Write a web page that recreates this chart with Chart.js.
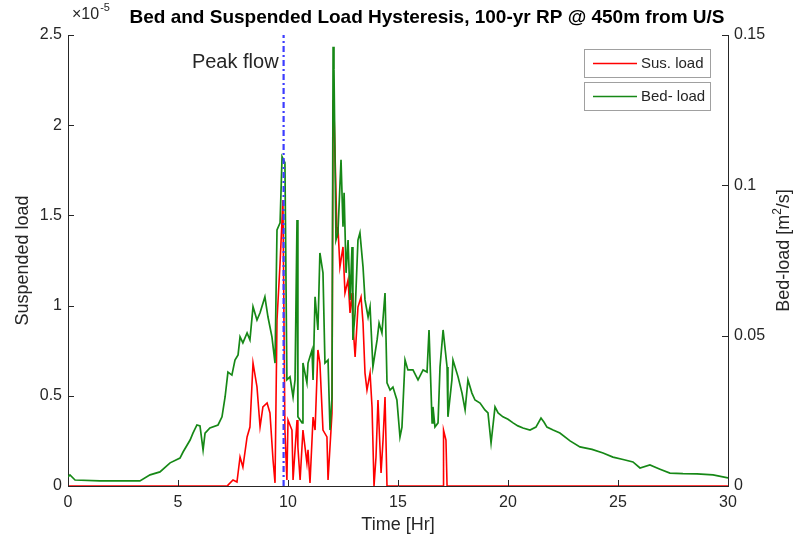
<!DOCTYPE html>
<html>
<head>
<meta charset="utf-8">
<script src="https://cdn.jsdelivr.net/npm/chart.js@4/dist/chart.umd.min.js"></script>
<style>
html,body{margin:0;padding:0;background:#fff;}
#wrap{width:794px;height:540px;position:relative;}
</style>
</head>
<body>
<div id="wrap"><canvas id="c" width="794" height="540"></canvas></div>
<script>
// ---- Data ----
const chartTitle = "Bed and Suspended Load Hysteresis, 100-yr RP @ 450m from U/S";
const xTitle = "Time [Hr]";
const yLeftTitle = "Suspended load";
const seriesNames = ["Sus. load", "Bed- load"];
const peakLabel = "Peak flow";
const peakTime = 9.8;

const xTicks = [0, 5, 10, 15, 20, 25, 30];
const leftTicks = [0, 0.5e-5, 1e-5, 1.5e-5, 2e-5, 2.5e-5];
const rightTicks = [0, 0.05, 0.1, 0.15];

const bedTime = [0,0.09,0.32,1.45,3.27,3.73,4.18,4.64,5.09,5.23,5.55,5.68,5.86,6.00,6.14,6.23,6.45,6.82,7.00,7.14,7.27,7.45,7.59,7.73,7.82,7.95,8.14,8.27,8.41,8.59,8.73,8.95,9.09,9.27,9.41,9.50,9.64,9.73,9.86,9.95,10.09,10.23,10.32,10.41,10.45,10.64,10.68,10.86,10.91,11.09,11.14,11.23,11.36,11.45,11.59,11.68,11.82,11.91,12.00,12.05,12.09,12.18,12.27,12.41,12.50,12.55,12.64,12.73,12.82,12.91,12.95,13.05,13.18,13.27,13.41,13.50,13.64,13.73,13.86,14.05,14.14,14.27,14.41,14.50,14.64,14.77,14.95,15.09,15.18,15.32,15.45,15.68,15.91,16.14,16.32,16.41,16.55,16.59,16.68,16.82,16.91,17.05,17.23,17.27,17.45,17.50,17.73,17.91,18.05,18.18,18.36,18.50,18.73,18.95,19.09,19.23,19.41,19.55,19.77,20.00,20.23,20.45,20.68,21.00,21.27,21.50,21.64,21.77,22.05,22.36,22.82,23.27,23.82,24.32,24.77,25.23,25.68,26.00,26.45,26.91,27.36,27.95,28.59,29.32,30.00];
const bedLoad = [0.0030,0.0037,0.0020,0.0017,0.0017,0.0037,0.0047,0.0077,0.0093,0.0113,0.0153,0.0176,0.0203,0.0200,0.0120,0.0176,0.0193,0.0203,0.0230,0.0296,0.0379,0.0369,0.0419,0.0436,0.0496,0.0476,0.0509,0.0486,0.0596,0.0552,0.0576,0.0629,0.0562,0.0496,0.0409,0.0852,0.0875,0.1095,0.1075,0.0353,0.0363,0.0296,0.0353,0.0885,0.0230,0.0210,0.0409,0.0343,0.0409,0.0452,0.0353,0.0629,0.0519,0.0775,0.0709,0.0409,0.0419,0.0186,0.0296,0.1461,0.1384,0.0818,0.0842,0.1085,0.0862,0.0975,0.0709,0.0818,0.0619,0.0795,0.0486,0.0576,0.0818,0.0842,0.0729,0.0619,0.0562,0.0596,0.0396,0.0486,0.0542,0.0509,0.0642,0.0343,0.0319,0.0329,0.0286,0.0163,0.0196,0.0419,0.0386,0.0386,0.0353,0.0386,0.0379,0.0519,0.0210,0.0263,0.0196,0.0210,0.0396,0.0519,0.0396,0.0230,0.0353,0.0419,0.0363,0.0309,0.0253,0.0353,0.0309,0.0286,0.0276,0.0253,0.0243,0.0143,0.0263,0.0243,0.0230,0.0222,0.0210,0.0200,0.0193,0.0186,0.0196,0.0226,0.0212,0.0196,0.0186,0.0176,0.0150,0.0130,0.0122,0.0110,0.0096,0.0088,0.0080,0.0060,0.0070,0.0056,0.0043,0.0041,0.0040,0.0037,0.0027];

const susTime = [0,7.23,7.27,7.50,7.68,7.82,7.95,8.14,8.27,8.41,8.59,8.73,8.86,9.05,9.18,9.32,9.41,9.50,9.64,9.77,9.86,9.95,10.00,10.18,10.23,10.41,10.45,10.55,10.68,10.86,10.91,11.00,11.14,11.23,11.36,11.45,11.59,11.77,11.82,12.00,12.05,12.09,12.23,12.27,12.36,12.50,12.59,12.73,12.82,12.91,12.95,13.05,13.18,13.32,13.41,13.50,13.59,13.73,13.82,13.91,14.00,14.09,14.23,14.32,14.41,14.50,17.05,17.07,17.18,17.23,30];
const susLoad = [0,0,0.005e-5,0.033e-5,0.022e-5,0.161e-5,0.105e-5,0.272e-5,0.327e-5,0.682e-5,0.549e-5,0.327e-5,0.438e-5,0.460e-5,0.405e-5,0.144e-5,0.017e-5,0.920e-5,1.236e-5,1.585e-5,0.310e-5,0.033e-5,0.366e-5,0.310e-5,0.033e-5,0.366e-5,0.216e-5,0.033e-5,0.310e-5,0.127e-5,0.200e-5,0.017e-5,0.382e-5,0.310e-5,0.754e-5,0.682e-5,0.310e-5,0.272e-5,0.033e-5,0.405e-5,2.14e-5,2.08e-5,1.380e-5,1.436e-5,1.214e-5,1.325e-5,1.070e-5,1.142e-5,0.959e-5,1.070e-5,0.904e-5,0.715e-5,0.992e-5,1.048e-5,0.904e-5,0.626e-5,0.532e-5,0.626e-5,0.438e-5,0,0.161e-5,0.477e-5,0.072e-5,0.255e-5,0.493e-5,0,0,0.310e-5,0.255e-5,0,0];

// ---- Styles ----
const TXT = '#262626';
const FONT = '"Liberation Sans", Arial, Helvetica, sans-serif';
const RED = '#ff0000', GREEN = '#168816', BLUE = '#3d3dff';

const toXY = (xs, ys) => xs.map((x, i) => ({x: x, y: ys[i]}));
const fmt = v => String(Math.round(v * 1000) / 1000);

const decor = {
  id: 'decor',
  afterDraw(chart) {
    const ctx = chart.ctx;
    const ca = chart.chartArea;
    const sx = chart.scales.x, sl = chart.scales.yL, sr = chart.scales.yR;
    ctx.save();
    // inward tick marks
    ctx.strokeStyle = TXT; ctx.lineWidth = 1;
    ctx.beginPath();
    xTicks.forEach(v => { const px = Math.round(sx.getPixelForValue(v)) + 0.5; ctx.moveTo(px, ca.bottom); ctx.lineTo(px, ca.bottom - 6); });
    leftTicks.forEach(v => { const py = Math.round(sl.getPixelForValue(v)) + 0.5; ctx.moveTo(ca.left, py); ctx.lineTo(ca.left + 6, py); });
    rightTicks.forEach(v => { const py = Math.round(sr.getPixelForValue(v)) + 0.5; ctx.moveTo(ca.right, py); ctx.lineTo(ca.right - 6, py); });
    ctx.stroke();

    // title
    ctx.fillStyle = '#000';
    ctx.font = 'bold 19px ' + FONT;
    ctx.textAlign = 'center'; ctx.textBaseline = 'middle';
    ctx.fillText(chartTitle, 427, 18);

    // exponent label
    ctx.fillStyle = TXT;
    ctx.font = '16px ' + FONT;
    ctx.textAlign = 'left';
    ctx.fillText('\u00D710', 72, 15);
    const w = ctx.measureText('\u00D710').width;
    ctx.font = '11px ' + FONT;
    ctx.fillText('-5', 72 + w + 1, 8);

    // axis titles
    ctx.font = '18px ' + FONT;
    ctx.textAlign = 'center';
    ctx.fillText(xTitle, (ca.left + ca.right) / 2, 525);
    ctx.save();
    ctx.translate(23, (ca.top + ca.bottom) / 2);
    ctx.rotate(-Math.PI / 2);
    ctx.fillText(yLeftTitle, 0, 0);
    ctx.restore();
    ctx.save();
    ctx.translate(784, (ca.top + ca.bottom) / 2 - 10);
    ctx.rotate(-Math.PI / 2);
    const a = 'Bed-load [m', b = '2', c = '/s]';
    ctx.font = '18px ' + FONT; const wa = ctx.measureText(a).width, wc = ctx.measureText(c).width;
    ctx.font = '12px ' + FONT; const wb = ctx.measureText(b).width;
    const x0 = -(wa + wb + wc) / 2;
    ctx.textAlign = 'left';
    ctx.font = '18px ' + FONT; ctx.fillText(a, x0, 0);
    ctx.font = '12px ' + FONT; ctx.fillText(b, x0 + wa, -6);
    ctx.font = '18px ' + FONT; ctx.fillText(c, x0 + wa + wb, 0);
    ctx.restore();

    // peak flow label
    ctx.font = '20px ' + FONT;
    ctx.textAlign = 'right';
    ctx.fillStyle = TXT;
    ctx.fillText(peakLabel, sx.getPixelForValue(peakTime) - 5, 62);

    // legends (two boxes)
    const boxes = [{y: 49, color: RED, label: seriesNames[0]}, {y: 82, color: GREEN, label: seriesNames[1]}];
    boxes.forEach(bx => {
      ctx.fillStyle = '#fff';
      ctx.fillRect(584.5, bx.y + 0.5, 126, 28);
      ctx.strokeStyle = '#a0a0a0'; ctx.lineWidth = 1;
      ctx.strokeRect(584.5, bx.y + 0.5, 126, 28);
      ctx.strokeStyle = bx.color; ctx.lineWidth = 1.5;
      ctx.beginPath(); ctx.moveTo(593, bx.y + 14.5); ctx.lineTo(637, bx.y + 14.5); ctx.stroke();
      ctx.fillStyle = TXT; ctx.font = '15px ' + FONT; ctx.textAlign = 'left'; ctx.textBaseline = 'middle';
      ctx.fillText(bx.label, 641, bx.y + 15);
    });
    ctx.restore();
  }
};

new Chart(document.getElementById('c'), {
  type: 'line',
  data: {
    datasets: [
      {label: 'peak', data: [{x: peakTime, y: 0}, {x: peakTime, y: leftTicks[leftTicks.length - 1]}], yAxisID: 'yL', borderColor: BLUE, borderWidth: 2.2, borderDash: [6, 3, 2, 3], pointRadius: 0, order: 0},
      {label: seriesNames[1], data: toXY(bedTime, bedLoad), yAxisID: 'yR', borderColor: GREEN, borderWidth: 1.7, pointRadius: 0, tension: 0, order: 1},
      {label: seriesNames[0], data: toXY(susTime, susLoad), yAxisID: 'yL', borderColor: RED, borderWidth: 1.6, pointRadius: 0, tension: 0, order: 2}
    ]
  },
  options: {
    responsive: false, animation: false,
    layout: {padding: {top: 35, left: 0, right: 0, bottom: 0}},
    plugins: {legend: {display: false}, title: {display: false}, tooltip: {enabled: false}},
    scales: {
      x: {type: 'linear', min: 0, max: 30,
          afterBuildTicks: s => { s.ticks = xTicks.map(v => ({value: v})); },
          afterFit: s => { s.height = 54; },
          grid: {display: false, drawTicks: false}, border: {display: true, color: TXT, width: 1},
          ticks: {color: TXT, font: {family: FONT, size: 16}, padding: 7, maxRotation: 0}},
      yL: {type: 'linear', position: 'left', min: 0, max: 2.5e-5,
          afterBuildTicks: s => { s.ticks = leftTicks.map(v => ({value: v})); },
          afterFit: s => { s.width = 68; },
          grid: {display: false, drawTicks: false}, border: {display: true, color: TXT, width: 1},
          ticks: {color: TXT, font: {family: FONT, size: 16}, padding: 6, callback: v => fmt(v / 1e-5)}},
      yR: {type: 'linear', position: 'right', min: 0, max: 0.15,
          afterBuildTicks: s => { s.ticks = rightTicks.map(v => ({value: v})); },
          afterFit: s => { s.width = 66; },
          grid: {display: false, drawTicks: false}, border: {display: true, color: TXT, width: 1},
          ticks: {color: TXT, font: {family: FONT, size: 16}, padding: 6, callback: v => fmt(v)}}
    }
  },
  plugins: [decor]
});
</script>
</body>
</html>
